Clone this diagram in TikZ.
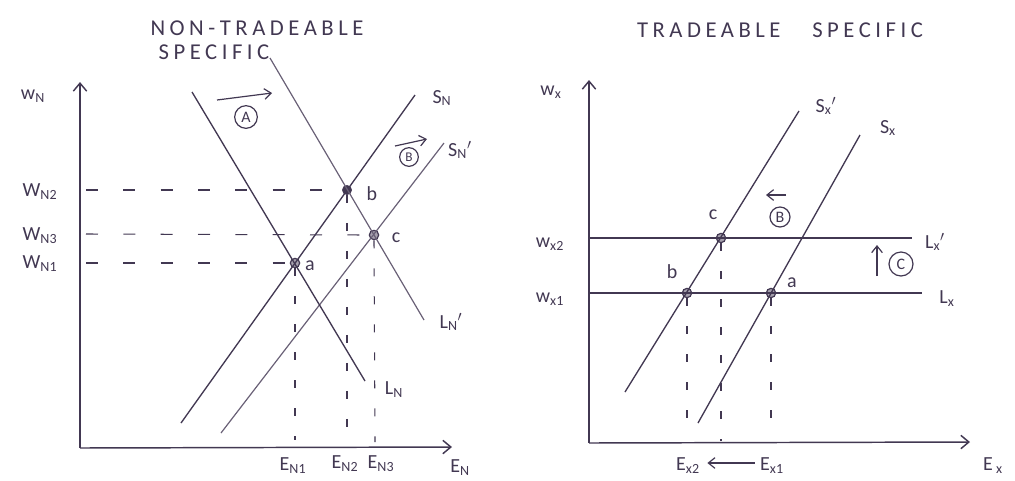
\documentclass[tikz,border=0pt]{standalone}
\usepackage{fontspec}
\setmainfont{Carlito}
\newfontfamily\titlefont[LetterSpace=20]{Carlito}
\usetikzlibrary{arrows.meta,calc}
\definecolor{ink}{RGB}{66,56,82}
\definecolor{inkl}{RGB}{105,96,118}
\newcommand{\sbs}[1]{\textsubscript{#1}}
\begin{document}
\begin{tikzpicture}[x=0.75pt,y=-0.75pt,
  curve/.style={draw=ink, line width=1pt},
  curvel/.style={draw=inkl, line width=0.9pt},
  hguide/.style={draw=ink, line width=0.8pt, dash pattern=on 9pt off 19pt},
  vguide/.style={draw=ink, line width=0.8pt, dash pattern=on 6pt off 15pt},
  axis/.style={draw=ink, line width=1.1pt, -{Straight Barb[length=6pt,width=10pt]}},
  lbl/.style={font=\fontsize{15}{17}\selectfont, text=ink, inner sep=1pt},
  ttl/.style={font=\titlefont\fontsize{17}{19}\selectfont, text=ink, inner sep=1pt},
  dot/.style={circle, draw=ink, line width=0.9pt, fill=inkl!60, minimum size=7pt, inner sep=0pt},
  dotb/.style={circle, draw=ink, fill=ink, minimum size=7pt, inner sep=0pt},
  circ/.style={circle, draw=ink, line width=0.9pt, inner sep=0pt, minimum size=17pt, font=\fontsize{12}{14}\selectfont, text=ink},
  shiftarr/.style={draw=ink, line width=0.9pt, -{Straight Barb[length=5pt,width=8pt]}},
]
\useasboundingbox (0,0) rectangle (1015,480);

% ================= LEFT PANEL =================
\node[ttl] (t1a) at (257,28) {NON-TRADEABLE};
\node[ttl] (t1b) at (214,52) {SPECIFIC};

\coordinate (O1) at (80,448);
\coordinate (Y1) at (80,82);
\coordinate (X1) at (452,447);
\draw[axis] (O1) -- (Y1);
\draw[axis] (O1) -- (X1);

\node[lbl] (wn) at (33,96) {w\sbs{N}};
\node[lbl] (wn2) at (40,192) {W\sbs{N2}};
\node[lbl] (wn3) at (40,236) {W\sbs{N3}};
\node[lbl] (wn1) at (40,264) {W\sbs{N1}};

% equilibrium points
\node[dot]  (a1) at (295,263) {};
\node[dotb] (b1) at (347,190) {};
\node[dot]  (c1) at (374,235) {};

% curves
\coordinate (SNlo) at (181,423);
\coordinate (SNhi) at (415,95);
\draw[curve] (SNlo) -- (SNhi);
\coordinate (SNplo) at (221,433);
\coordinate (SNphi) at (444,143);
\draw[curvel] (SNplo) -- (SNphi);
\coordinate (LNhi) at (192,92);
\coordinate (LNlo) at (365,381);
\draw[curve] (LNhi) -- (LNlo);
\coordinate (LNphi) at (270,58);
\coordinate (LNplo) at (424,320);
\draw[curvel] (LNphi) -- (LNplo);

\node[lbl] (sn) at (442,98) {S\sbs{N}};
\node[lbl] (snp) at (460,150) {S\sbs{N}$'$};
\node[lbl] (lnp) at (451,322) {L\sbs{N}$'$};
\node[lbl] (ln) at (394,390) {L\sbs{N}};

\node[lbl] (la1) at (310,266) {a};
\node[lbl] (lb1) at (372,194) {b};
\node[lbl] (lc1) at (396,238) {c};

% guides
\coordinate (h2) at (86,190);
\coordinate (h3) at (86,234);
\coordinate (h1) at (86,263);
\draw[hguide] (h2) -- (b1.west);
\draw[hguide] (h3) -- (c1.west);
\draw[hguide] (h1) -- (a1.west);
\coordinate (v1) at (295,440);
\coordinate (v2) at (347,440);
\coordinate (v3) at (375,442);
\draw[vguide] (a1.south) -- (v1);
\draw[vguide] (b1.south) -- (v2);
\draw[vguide] (c1.south) -- (v3);

\node[lbl] (en1) at (293,466) {E\sbs{N1}};
\node[lbl] (en2) at (345,464) {E\sbs{N2}};
\node[lbl] (en3) at (381,464) {E\sbs{N3}};
\node[lbl] (en) at (460,468) {E\sbs{N}};

% shift markers
\node[circ] (cA) at (246,117) {A};
\coordinate (aA1) at (217,100);
\coordinate (aA2) at (272,93);
\draw[shiftarr] (aA1) -- (aA2);
\node[circ, minimum size=14pt, font=\fontsize{10}{12}\selectfont] (cB) at (409,157) {B};
\coordinate (aB1) at (395,146);
\coordinate (aB2) at (427,139);
\draw[shiftarr] (aB1) -- (aB2);

% ================= RIGHT PANEL =================
\node[ttl] (t2) at (780,30) {TRADEABLE\hspace{1.4em}SPECIFIC};

\coordinate (O2) at (589,443);
\coordinate (Y2) at (589,80);
\coordinate (X2) at (970,442);
\draw[axis] (O2) -- (Y2);
\draw[axis] (O2) -- (X2);

\node[lbl] (wx) at (551,92) {w\sbs{x}};
\node[lbl] (wx2) at (550,244) {w\sbs{x2}};
\node[lbl] (wx1) at (550,299) {w\sbs{x1}};

\node[dot]  (bx) at (687,293) {};
\node[dot]  (cx) at (721,238) {};
\node[dot]  (ax) at (771,293) {};

% horizontal lines L_x', L_x
\coordinate (Lpl) at (590,238);
\coordinate (Lpr) at (912,238);
\draw[curve] (Lpl) -- (Lpr);
\coordinate (Ll) at (590,293);
\coordinate (Lr) at (922,293);
\draw[curve] (Ll) -- (Lr);
\node[lbl] (lxp) at (935,242) {L\sbs{x}$'$};
\node[lbl] (lx) at (947,299) {L\sbs{x}};

% supply lines
\coordinate (Sxplo) at (625,392);
\coordinate (Sxphi) at (799,111);
\draw[curve] (Sxplo) -- (Sxphi);
\coordinate (Sxlo) at (698,423);
\coordinate (Sxhi) at (860,135);
\draw[curve] (Sxlo) -- (Sxhi);
\node[lbl] (sxp) at (826,106) {S\sbs{x}$'$};
\node[lbl] (sx) at (888,128) {S\sbs{x}};

\node[lbl] (lcx) at (713,215) {c};
\node[lbl] (lbx) at (672,272) {b};
\node[lbl] (lax) at (792,283) {a};

% guides
\coordinate (vx2) at (687,437);
\coordinate (vxc) at (721,441);
\coordinate (vx1) at (771,437);
\draw[vguide] (bx.south) -- (vx2);
\draw[vguide] (cx.south) -- (vxc);
\draw[vguide] (ax.south) -- (vx1);

\node[lbl] (ex2) at (688,466) {E\sbs{x2}};
\node[lbl] (ex1) at (772,466) {E\sbs{x1}};
\node[lbl] (ex) at (993,466) {E\,\sbs{x}};
\coordinate (ea1) at ($(ex1.west)+(-4,-3)$);
\coordinate (ea2) at ($(ex2.east)+(6,-3)$);
\draw[shiftarr] (ea1) -- (ea2);

% shift markers
\node[circ, minimum size=15pt] (cBx) at (780,217) {B};
\coordinate (bx1) at (786,195);
\coordinate (bx2) at (766,195);
\draw[shiftarr] (bx1) -- (bx2);
\node[circ, minimum size=18pt] (cC) at (901,264) {C};
\coordinate (cc1) at (877,276);
\coordinate (cc2) at (877,245);
\draw[shiftarr] (cc1) -- (cc2);
\end{tikzpicture}
\end{document}
